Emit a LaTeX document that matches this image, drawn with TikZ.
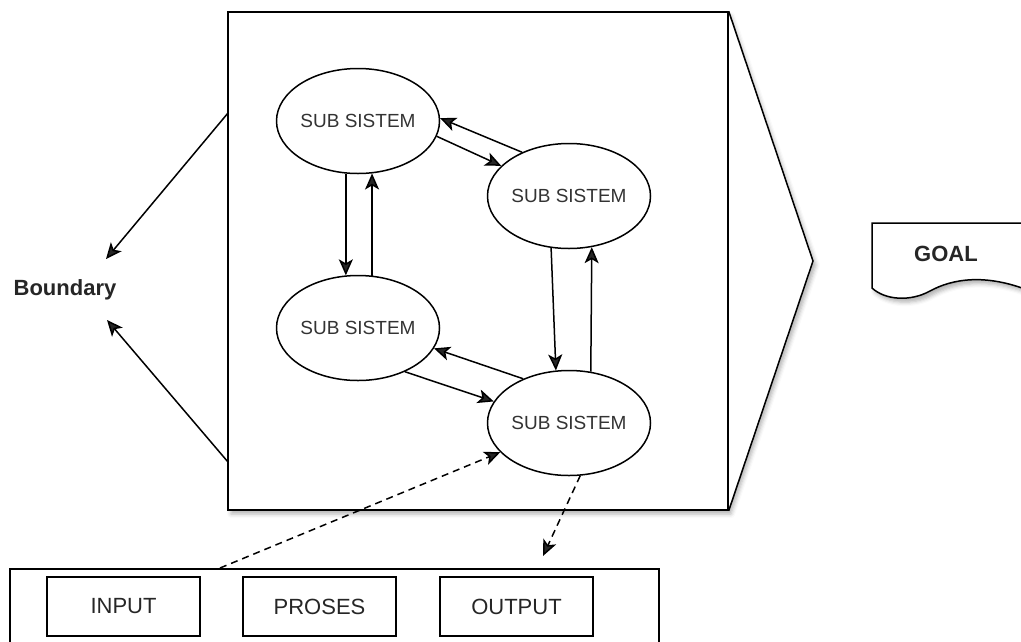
\documentclass[tikz,border=0pt]{standalone}
\usepackage{fontspec}
\setmainfont{Liberation Sans}
\usetikzlibrary{shapes.geometric,arrows.meta,shadows.blur}
\begin{document}
\begin{tikzpicture}[x=1pt,y=-1pt,
  line width=1.5pt,
  sub/.style={ellipse,draw,fill=white,minimum width=163pt,minimum height=105pt,inner sep=0pt,font=\fontsize{19}{19}\selectfont,text=black!80},
  ipo/.style={draw,minimum width=153pt,minimum height=59pt,inner sep=0pt,font=\fontsize{22}{22}\selectfont,text=black!85},
  arr/.style={-{Stealth[length=16pt,width=14pt,inset=4pt]}},
  darr/.style={arr,dash pattern=on 7pt off 5pt},
  lbl/.style={font=\bfseries\fontsize{22}{22}\selectfont,text=black!85},
  shad/.style={blur shadow={shadow xshift=3pt,shadow yshift=-4pt,shadow opacity=30,shadow blur radius=4pt}}
]
\useasboundingbox (0,0) rectangle (1021,641);
\clip (0,0) rectangle (1021,641);

% system box with chevron
\coordinate (apex) at (813,261);
\fill[white,shad] (228,12) -- (728,12) -- (apex) -- (728,510) -- (228,510) -- cycle;
\node[draw,minimum width=500pt,minimum height=498pt,inner sep=0pt] (sys) at (478,261) {};
\draw (sys.north east) -- (apex) -- (sys.south east);

% goal document shape
\draw[fill=white,shad] (1030,223) -- (872,223) -- (872,288)
  .. controls (885,300) and (910,302) .. (930,291)
  .. controls (952,279) and (985,273) .. (1030,291);
\node[lbl] (goal) at (946,254) {GOAL};

% subsystems
\node[sub] (A) at (358,121) {SUB SISTEM};
\node[sub] (B) at (569,196) {SUB SISTEM};
\node[sub] (C) at (358,328) {SUB SISTEM};
\node[sub] (D) at (569,423) {SUB SISTEM};

\draw[arr] (A.257) -- (C.103);
\draw[arr] (C.75) -- (A.285);
\draw[arr] (A.349) -- (B.156);
\draw[arr] (B.137) -- (A.2);
\draw[arr] (B.251) -- (D.104);
\draw[arr] (D.67) -- (B.294);
\draw[arr] (D.136) -- (C.345);
\draw[arr] (C.317) -- (D.164);

% boundary
\node[lbl] (bnd) at (65,290) {Boundary};
\coordinate (b1) at (228,113);
\coordinate (b2) at (228,462);
\coordinate (t1) at (106,259);
\coordinate (t2) at (107,320);
\draw[arr] (b1) -- (t1);
\draw[arr] (b2) -- (t2);

% process box
\node[draw,minimum width=649pt,minimum height=120pt,inner sep=0pt,anchor=north west] (pbox) at (9,568) {};
\node[ipo] (in) at (123.5,606.5) {INPUT};
\node[ipo] (pr) at (319.5,606.5) {PROSES};
\node[ipo] (out) at (516.5,606.5) {OUTPUT};

\coordinate (inS) at (220,568);
\coordinate (outT) at (543,556);
\draw[darr] (inS) -- (D.203);
\draw[darr] (D.282) -- (outT);
\end{tikzpicture}
\end{document}
